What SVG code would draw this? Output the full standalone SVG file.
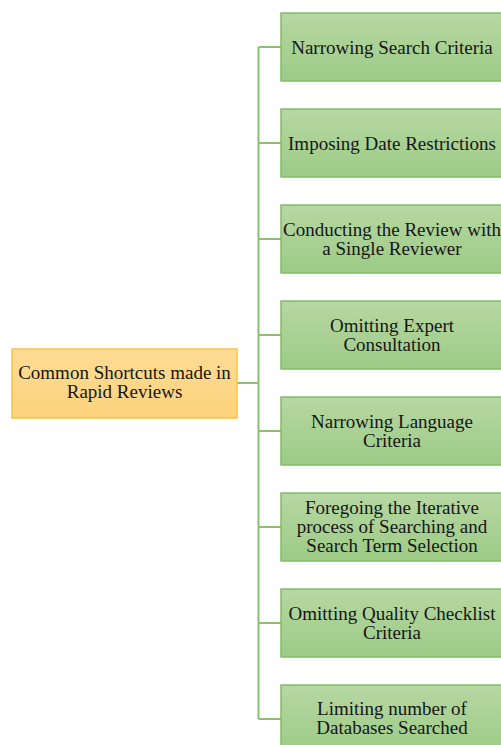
<svg xmlns="http://www.w3.org/2000/svg" width="501" height="745" viewBox="0 0 501 745">
  <defs>
    <linearGradient id="gGreen" x1="0" y1="0" x2="0" y2="1">
      <stop offset="0" stop-color="#b7d7a3"/>
      <stop offset="1" stop-color="#9ccb85"/>
    </linearGradient>
    <linearGradient id="gOrange" x1="0" y1="0" x2="0" y2="1">
      <stop offset="0" stop-color="#fedc95"/>
      <stop offset="1" stop-color="#fdd27c"/>
    </linearGradient>
  </defs>
  <style>
    .leaf rect { fill: url(#gGreen); stroke: #84bb68; stroke-width: 1.5; }
    .root rect { fill: url(#gOrange); stroke: #f6c445; stroke-width: 1.5; }
    text { font-family: "Liberation Serif", "Times New Roman", serif; font-size: 19px; fill: #161616; text-anchor: middle; }
    .conn { stroke: #8cc06f; stroke-width: 2; fill: none; }
  </style>

  <!-- connectors: trunk, root stub and one branch per leaf -->
  <g id="connectors" class="conn">
    <line x1="258.5" y1="47" x2="258.5" y2="719"/>
    <line x1="237" y1="383" x2="258.5" y2="383"/>
    <line x1="258.5" y1="47" x2="281" y2="47"/>
    <line x1="258.5" y1="143" x2="281" y2="143"/>
    <line x1="258.5" y1="239" x2="281" y2="239"/>
    <line x1="258.5" y1="335" x2="281" y2="335"/>
    <line x1="258.5" y1="431" x2="281" y2="431"/>
    <line x1="258.5" y1="527" x2="281" y2="527"/>
    <line x1="258.5" y1="623" x2="281" y2="623"/>
    <line x1="258.5" y1="719" x2="281" y2="719"/>
  </g>

  <g id="root" class="root">
    <rect x="12" y="349" width="225" height="69"/>
    <text x="124.5" y="379">Common Shortcuts made in</text>
    <text x="124.5" y="398">Rapid Reviews</text>
  </g>

  <g id="n1" class="leaf">
    <rect x="281" y="13" width="222" height="68"/>
    <text x="392" y="54">Narrowing Search Criteria</text>
  </g>
  <g id="n2" class="leaf">
    <rect x="281" y="109" width="222" height="68"/>
    <text x="392" y="150">Imposing Date Restrictions</text>
  </g>
  <g id="n3" class="leaf">
    <rect x="281" y="205" width="222" height="68"/>
    <text x="392" y="236">Conducting the Review with</text>
    <text x="392" y="255">a Single Reviewer</text>
  </g>
  <g id="n4" class="leaf">
    <rect x="281" y="301" width="222" height="68"/>
    <text x="392" y="332">Omitting Expert</text>
    <text x="392" y="351">Consultation</text>
  </g>
  <g id="n5" class="leaf">
    <rect x="281" y="397" width="222" height="68"/>
    <text x="392" y="428">Narrowing Language</text>
    <text x="392" y="447">Criteria</text>
  </g>
  <g id="n6" class="leaf">
    <rect x="281" y="493" width="222" height="68"/>
    <text x="392" y="514">Foregoing the Iterative</text>
    <text x="392" y="533">process of Searching and</text>
    <text x="392" y="552">Search Term Selection</text>
  </g>
  <g id="n7" class="leaf">
    <rect x="281" y="589" width="222" height="68"/>
    <text x="392" y="620">Omitting Quality Checklist</text>
    <text x="392" y="639">Criteria</text>
  </g>
  <g id="n8" class="leaf">
    <rect x="281" y="685" width="222" height="68"/>
    <text x="392" y="715">Limiting number of</text>
    <text x="392" y="734">Databases Searched</text>
  </g>
</svg>
